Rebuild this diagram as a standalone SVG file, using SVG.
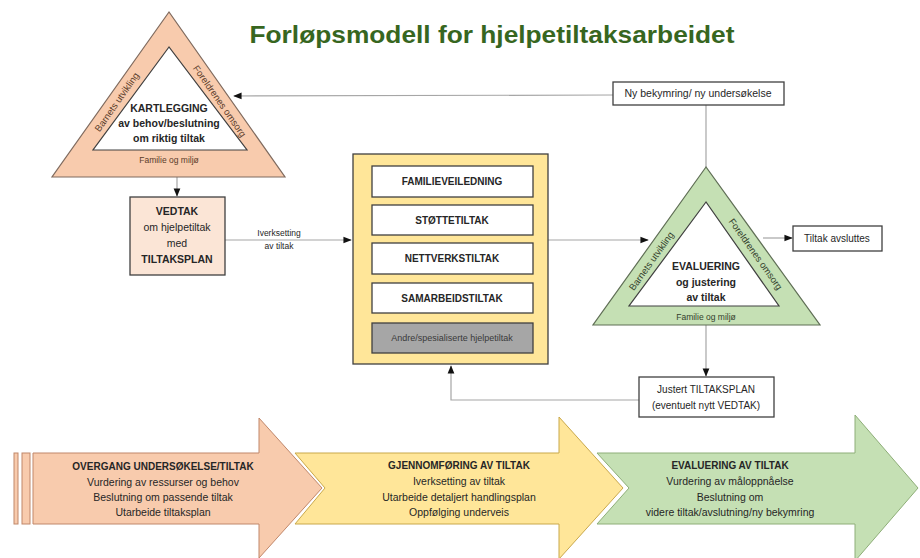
<svg xmlns="http://www.w3.org/2000/svg" width="920" height="558" viewBox="0 0 920 558">
<defs>
<style>
text{font-family:"Liberation Sans",Arial,sans-serif;fill:#262626;text-anchor:middle}
.b{font-weight:bold}
.box{fill:#fff;stroke:#404040;stroke-width:1.3}
.con{fill:none;stroke:#a6a6a6;stroke-width:1.2}
.side{font-size:9.5px}
</style>
<marker id="ah" viewBox="0 0 10 10" refX="9" refY="5" markerWidth="7" markerHeight="7" orient="auto"><path d="M0,1 L10,5 L0,9 z" fill="#111"/></marker>
</defs>
<rect width="920" height="558" fill="#fff"/>
<text x="492" y="43" class="b" font-size="24" textLength="485" lengthAdjust="spacingAndGlyphs" style="fill:#37661f">Forløpsmodell for hjelpetiltaksarbeidet</text>

<g id="connectors">
<path class="con" d="M613,95 L234,96" marker-end="url(#ah)"/>
<path class="con" d="M706,167 L706,105"/>
<path class="con" d="M177,177 L177,196" marker-end="url(#ah)"/>
<path class="con" d="M225,240 L351,240" marker-end="url(#ah)"/>
<text x="279" y="236" font-size="8.5">Iverksetting</text>
<text x="279" y="249" font-size="8.5">av tiltak</text>
<path class="con" d="M548,240 L648,240" marker-end="url(#ah)"/>
<path class="con" d="M763,238 L792,238" marker-end="url(#ah)"/>
<path class="con" d="M706,325 L706,376" marker-end="url(#ah)"/>
<path class="con" d="M639,400 L451,400 L451,366" marker-end="url(#ah)"/>
</g>

<g id="kartlegging">
<polygon points="169,12 52,177 285,177" fill="#f8cbad" stroke="#7f6a5e" stroke-width="1.2"/>
<polygon points="169,47 93,150 247,150" fill="#fff" stroke="#404040" stroke-width="1.2"/>
<text x="169" y="112" class="b" font-size="10.5">KARTLEGGING</text>
<text x="169" y="127" class="b" font-size="10.5">av behov/beslutning</text>
<text x="169" y="142" class="b" font-size="10.5">om riktig tiltak</text>
<text class="side" transform="translate(119.5,104) rotate(-55)" style="fill:#5a3b2a">Barnets utvikling</text>
<text class="side" transform="translate(217,103) rotate(55)" style="fill:#5a3b2a">Foreldrenes omsorg</text>
<text x="169" y="163" font-size="8.5" style="fill:#5a3b2a">Familie og miljø</text>
</g>

<g id="vedtak">
<rect x="130" y="197" width="95" height="78" fill="#fbe5d6" stroke="#404040" stroke-width="1.3"/>
<text x="177" y="215" class="b" font-size="10.5">VEDTAK</text>
<text x="177" y="231" font-size="10.5">om hjelpetiltak</text>
<text x="177" y="247" font-size="10.5">med</text>
<text x="177" y="263" class="b" font-size="10.5">TILTAKSPLAN</text>
</g>

<g id="tiltak">
<rect x="353" y="154" width="195" height="210" fill="#ffe699" stroke="#404040" stroke-width="1.3"/>
<rect class="box" x="372" y="166" width="161" height="31"/>
<text x="452" y="185" class="b" font-size="10">FAMILIEVEILEDNING</text>
<rect class="box" x="372" y="205" width="161" height="30"/>
<text x="452" y="224" class="b" font-size="10">STØTTETILTAK</text>
<rect class="box" x="372" y="243" width="161" height="31"/>
<text x="452" y="262" class="b" font-size="10">NETTVERKSTILTAK</text>
<rect class="box" x="372" y="283" width="161" height="30"/>
<text x="452" y="302" class="b" font-size="10">SAMARBEIDSTILTAK</text>
<rect x="372" y="323" width="161" height="30" fill="#a6a6a6" stroke="#404040" stroke-width="1.3"/>
<text x="452" y="341" font-size="9" style="fill:#3a3a3a">Andre/spesialiserte hjelpetiltak</text>
</g>

<g id="nybekymring">
<rect class="box" x="613" y="82" width="171" height="23"/>
<text x="698" y="97" font-size="10.5">Ny bekymring/ ny undersøkelse</text>
</g>

<g id="evaluering">
<polygon points="706,167 593,325 820,325" fill="#c5e0b4" stroke="#5f6e55" stroke-width="1.2"/>
<polygon points="706,202 629,306 779,306" fill="#fff" stroke="#404040" stroke-width="1.2"/>
<text x="706" y="270" class="b" font-size="10.5">EVALUERING</text>
<text x="706" y="286" class="b" font-size="10.5">og  justering</text>
<text x="706" y="301" class="b" font-size="10.5">av tiltak</text>
<text class="side" transform="translate(654,263) rotate(-54.5)" style="fill:#33402c">Barnets utvikling</text>
<text class="side" transform="translate(753,256) rotate(54.5)" style="fill:#33402c">Foreldrenes omsorg</text>
<text x="706" y="320" font-size="8.5" style="fill:#33402c">Familie og miljø</text>
</g>

<g id="avsluttes">
<rect class="box" x="793" y="226" width="89" height="25"/>
<text x="837" y="242" font-size="10">Tiltak avsluttes</text>
</g>

<g id="justert">
<rect class="box" x="639" y="377" width="135" height="40"/>
<text x="706" y="393" font-size="10">Justert TILTAKSPLAN</text>
<text x="706" y="409" font-size="10">(eventuelt  nytt VEDTAK)</text>
</g>

<g id="fase1">
<rect x="14" y="453" width="4" height="71" fill="#f8cbad" stroke="#c0876a" stroke-width="1"/>
<rect x="22" y="453" width="8" height="71" fill="#f8cbad" stroke="#c0876a" stroke-width="1"/>
<polygon points="33,453 259,453 259,418 322,488 259,558 259,524 33,524" fill="#f8cbad" stroke="#c0876a" stroke-width="1"/>
<text x="163" y="470" class="b" font-size="10">OVERGANG UNDERSØKELSE/TILTAK</text>
<text x="163" y="486" font-size="10.5">Vurdering av ressurser og behov</text>
<text x="163" y="501" font-size="10.5">Beslutning om passende tiltak</text>
<text x="163" y="516" font-size="10.5">Utarbeide tiltaksplan</text>
</g>

<g id="fase2">
<polygon points="295,453 559,453 559,417 623,488 559,559 559,524 295,524 325,488" fill="#ffe699" stroke="#c9a84a" stroke-width="1"/>
<text x="459" y="469" class="b" font-size="10">GJENNOMFØRING AV TILTAK</text>
<text x="459" y="485" font-size="10.5">Iverksetting av tiltak</text>
<text x="459" y="501" font-size="10.5">Utarbeide detaljert handlingsplan</text>
<text x="459" y="516" font-size="10.5">Oppfølging underveis</text>
</g>

<g id="fase3">
<polygon points="597,453 855,453 855,415 918,488 855,561 855,524 597,524 629,488" fill="#c5e0b4" stroke="#8eae78" stroke-width="1"/>
<text x="730" y="469" class="b" font-size="10">EVALUERING AV TILTAK</text>
<text x="730" y="485" font-size="10.5">Vurdering av måloppnåelse</text>
<text x="730" y="501" font-size="10.5">Beslutning om</text>
<text x="730" y="516" font-size="10.5">videre tiltak/avslutning/ny bekymring</text>
</g>
</svg>
